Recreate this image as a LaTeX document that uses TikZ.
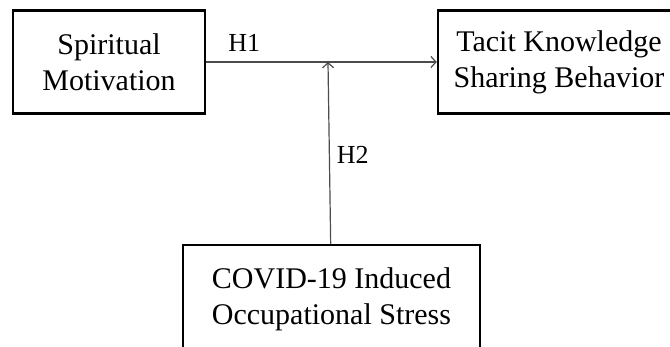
\documentclass[tikz,border=0pt]{standalone}
\usepackage{fontspec}
\setmainfont{Liberation Serif}
\usetikzlibrary{arrows.meta}

\begin{document}
\begin{tikzpicture}[x=1pt, y=-1pt,
    box/.style={draw, line width=2.5pt, align=center, minimum height=103pt,
      inner sep=0pt, font=\fontsize{30}{36}\selectfont},
    link/.style={draw=black!70, line width=1.2pt,
      -{Straight Barb[length=5pt,width=11pt]}},
    hyp/.style={inner sep=2pt, font=\fontsize{26}{30}\selectfont}]
  % Page frame
  \useasboundingbox (0,0) rectangle (670,347);
  \clip (0,0) rectangle (670,347);

  % Boxes
  \node[box, minimum width=192pt] (motiv) at (109,62) {Spiritual\\Motivation};
  \node[box, minimum width=242pt] (share) at (559,62) {Tacit Knowledge\\Sharing Behavior};
  \node[box, minimum width=297pt, minimum height=109pt] (stress) at (331.5,299.5) {COVID-19 Induced\\Occupational Stress};

  % Point where the moderator meets the path
  \coordinate (mid) at (328,62);

  % Paths
  \draw[link] (motiv) -- node[hyp, pos=0.165, above=8pt] {H1} (share);
  \draw[link] (stress) -- node[hyp, pos=0.49, right=5pt] {H2} (mid);
\end{tikzpicture}
\end{document}
